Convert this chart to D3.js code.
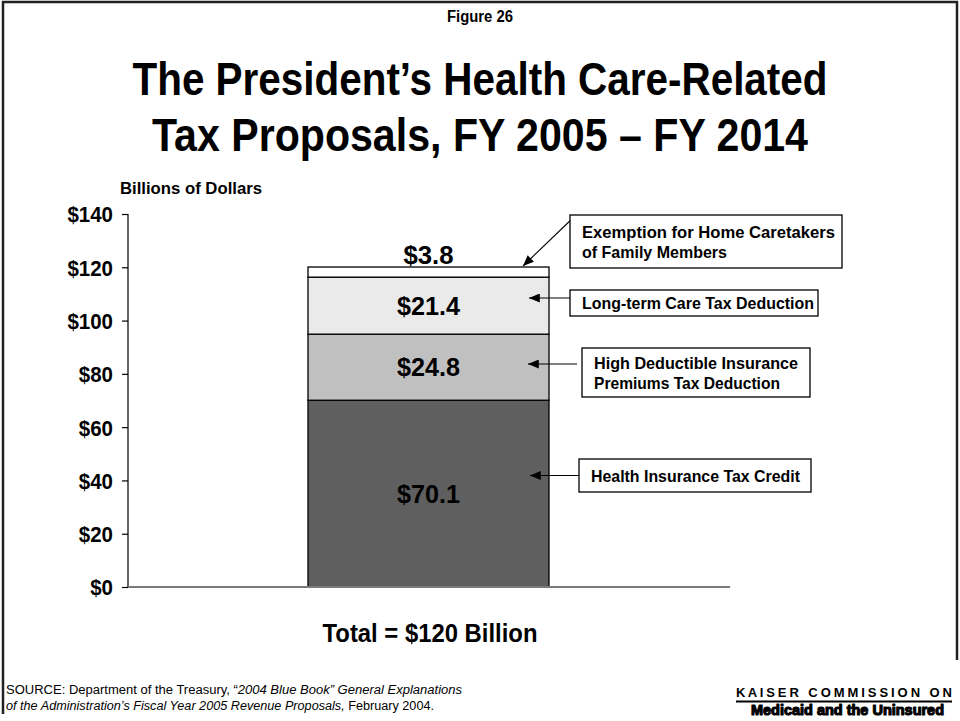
<!DOCTYPE html>
<html>
<head>
<meta charset="utf-8">
<script src="https://cdn.jsdelivr.net/npm/d3@7"></script>
<style>
  html, body { margin: 0; padding: 0; background: #fff; }
  svg { display: block; font-family: "Liberation Sans", Arial, sans-serif; }
  .pre { white-space: pre; }
</style>
</head>
<body>
<svg id="chart" width="960" height="721"></svg>
<script>
// Health care-related tax proposals, FY 2005 – FY 2014 (billions of dollars)
const segments = [
  "Health Insurance Tax Credit",
  "High Deductible Insurance Premiums Tax Deduction",
  "Long-term Care Tax Deduction",
  "Exemption for Home Caretakers of Family Members"
];
const segmentValues = [70.1, 24.8, 21.4, 3.8];
const segmentLabels = ["$70.1", "$24.8", "$21.4", "$3.8"];
const segmentFills = ["#5f5f5f", "#c0c0c0", "#eaeaea", "#ffffff"];
const calloutLines = [
  ["Health Insurance Tax Credit"],
  ["High Deductible Insurance", "Premiums Tax Deduction"],
  ["Long-term Care Tax Deduction"],
  ["Exemption for Home Caretakers", "of Family Members"]
];
const yTicks = [0, 20, 40, 60, 80, 100, 120, 140];
const total = 120;

const svg = d3.select("#chart");

// page frame
svg.append("path")
  .attr("d", "M3,714 V2 H957 V660")
  .attr("fill", "none").attr("stroke", "#222").attr("stroke-width", 2.5);

// headings
svg.append("text").attr("x", 480).attr("y", 22).attr("text-anchor", "middle")
  .attr("font-weight", "bold").attr("font-size", 16)
  .attr("textLength", 66).attr("lengthAdjust", "spacingAndGlyphs").text("Figure 26");
svg.append("text").attr("x", 480).attr("y", 95).attr("text-anchor", "middle")
  .attr("font-weight", "bold").attr("font-size", 47)
  .attr("textLength", 695).attr("lengthAdjust", "spacingAndGlyphs")
  .text("The President\u2019s Health Care-Related");
svg.append("text").attr("x", 480).attr("y", 151).attr("text-anchor", "middle")
  .attr("font-weight", "bold").attr("font-size", 47)
  .attr("textLength", 656).attr("lengthAdjust", "spacingAndGlyphs")
  .text("Tax Proposals, FY 2005 \u2013 FY 2014");

// scales
const y = d3.scaleLinear().domain([0, 140]).range([587, 214]);
const barX0 = 308, barW = 241;

svg.append("text").attr("x", 120).attr("y", 194)
  .attr("font-weight", "bold").attr("font-size", 17)
  .attr("textLength", 142).attr("lengthAdjust", "spacingAndGlyphs").text("Billions of Dollars");

// y axis
const yAxis = d3.axisLeft(y).tickValues(yTicks).tickSize(6).tickPadding(9)
  .tickFormat(d => "$" + d);
const gy = svg.append("g").attr("transform", "translate(128,0)").call(yAxis);
gy.select(".domain").attr("d", "M-6,214.5H0V587").attr("stroke", "#000").attr("stroke-width", 1.2);
gy.selectAll(".tick line").attr("stroke", "#000").attr("stroke-width", 1.2);
gy.selectAll(".tick text").attr("font-family", "Liberation Sans, Arial, sans-serif")
  .attr("font-weight", "bold").attr("font-size", 22).attr("fill", "#000").attr("dy", "0.36em")
  .attr("textLength", d => String(d).length * 11.4 + 11.4).attr("lengthAdjust", "spacingAndGlyphs");

// stacked bar
const stack = [];
let acc = 0;
segmentValues.forEach((v, i) => { stack.push({ i, y0: acc, y1: acc + v, v }); acc += v; });

svg.append("g").selectAll("rect").data(stack).join("rect")
  .attr("x", barX0).attr("width", barW)
  .attr("y", d => y(d.y1)).attr("height", d => y(d.y0) - y(d.y1))
  .attr("fill", d => segmentFills[d.i]).attr("stroke", "#000").attr("stroke-width", 1.3);

// baseline
svg.append("line").attr("x1", 128).attr("x2", 730).attr("y1", y(0)).attr("y2", y(0))
  .attr("stroke", "#7a7a7a").attr("stroke-width", 2);

// segment value labels
const cx = barX0 + barW / 2;
svg.append("g").selectAll("text").data(stack).join("text")
  .attr("x", cx).attr("text-anchor", "middle")
  .attr("y", d => d.i === 3 ? y(d.y1) - 3 : y((d.y0 + d.y1) / 2) + 9)
  .attr("font-weight", "bold").attr("font-size", 25).attr("fill", "#000")
  .attr("textLength", d => segmentLabels[d.i].length === 4 ? 50 : 63)
  .attr("lengthAdjust", "spacingAndGlyphs")
  .text(d => segmentLabels[d.i]);

// callouts
svg.append("defs").append("marker").attr("id", "arrow")
  .attr("viewBox", "0 0 12 10").attr("refX", 12).attr("refY", 5)
  .attr("markerWidth", 12).attr("markerHeight", 9).attr("markerUnits", "userSpaceOnUse")
  .attr("orient", "auto")
  .append("path").attr("d", "M0,0 L12,5 L0,10 Z").attr("fill", "#000");

const callouts = [
  { i: 0, box: [579, 459, 232, 33], from: [579, 475.5], to: [530, 475.5], w: [209] },
  { i: 1, box: [582, 348, 228, 49], from: [577, 364], to: [528, 364], w: [204, 186] },
  { i: 2, box: [570, 290, 248, 26], from: [570, 298], to: [529, 298], w: [232] },
  { i: 3, box: [570, 215, 272, 53], from: [575, 216], to: [523, 266], w: [253, 145] }
];

const cg = svg.append("g");
callouts.forEach(c => {
  const [bx, by, bw, bh] = c.box;
  cg.append("line").attr("x1", c.from[0]).attr("y1", c.from[1])
    .attr("x2", c.to[0]).attr("y2", c.to[1])
    .attr("stroke", "#000").attr("stroke-width", 1.1).attr("marker-end", "url(#arrow)");
  cg.append("rect").attr("x", bx).attr("y", by).attr("width", bw).attr("height", bh)
    .attr("fill", "#fff").attr("stroke", "#000").attr("stroke-width", 1.3);
  const lines = calloutLines[c.i];
  const lh = 20;
  const top = by + bh / 2 - (lines.length - 1) * lh / 2 + 6;
  lines.forEach((t, k) => {
    cg.append("text").attr("x", bx + 12).attr("y", top + k * lh)
      .attr("font-weight", "bold").attr("font-size", 16.5).attr("fill", "#000")
      .attr("textLength", c.w[k]).attr("lengthAdjust", "spacingAndGlyphs").text(t);
  });
});

// total
svg.append("text").attr("x", 430).attr("y", 642).attr("text-anchor", "middle")
  .attr("font-weight", "bold").attr("font-size", 25)
  .attr("textLength", 215).attr("lengthAdjust", "spacingAndGlyphs")
  .text("Total = $" + total + " Billion");

// source note
const s1 = svg.append("text").attr("x", 6).attr("y", 694).attr("font-size", 12.3)
  .attr("textLength", 456).attr("lengthAdjust", "spacingAndGlyphs");
s1.append("tspan").text("SOURCE: Department of the Treasury, \u201C");
s1.append("tspan").attr("font-style", "italic").text("2004 Blue Book\u201D General Explanations");
const s2 = svg.append("text").attr("x", 6).attr("y", 710).attr("font-size", 12.3)
  .attr("textLength", 428).attr("lengthAdjust", "spacingAndGlyphs");
s2.append("tspan").attr("font-style", "italic").text("of the Administration\u2019s Fiscal Year 2005 Revenue Proposals,");
s2.append("tspan").text(" February 2004.");

// logo
svg.append("text").attr("class", "pre").attr("x", 952).attr("y", 697).attr("text-anchor", "end")
  .attr("font-weight", "bold").attr("font-size", 13)
  .attr("textLength", 216).attr("lengthAdjust", "spacing")
  .text("K A I S E R   C O M M I S S I O N   O N");
svg.append("line").attr("x1", 736).attr("x2", 952).attr("y1", 701.5).attr("y2", 701.5)
  .attr("stroke", "#000").attr("stroke-width", 2);
svg.append("text").attr("x", 944).attr("y", 715).attr("text-anchor", "end")
  .attr("font-weight", "bold").attr("font-size", 15)
  .attr("stroke", "#000").attr("stroke-width", 1.2).attr("stroke-linejoin", "round")
  .attr("textLength", 193).attr("lengthAdjust", "spacingAndGlyphs")
  .text("Medicaid and the Uninsured");
</script>
</body>
</html>
